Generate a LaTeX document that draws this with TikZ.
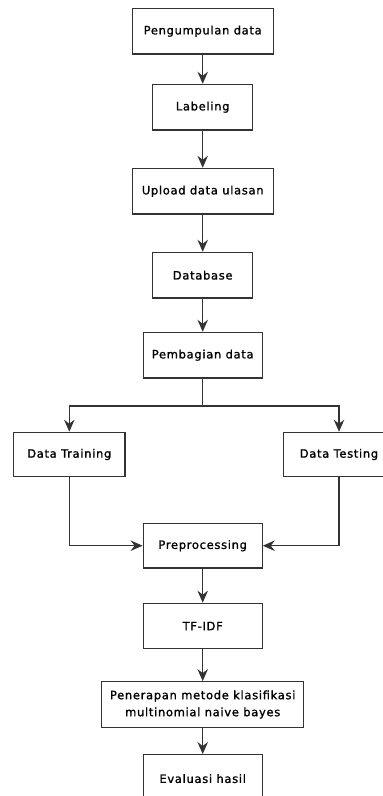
\documentclass[tikz,border=0pt]{standalone}
\usepackage{fontspec}
\setmainfont{DejaVu Sans}
\newfontfamily\boxfont[FakeBold=1.2,LetterSpace=6]{DejaVu Sans}
\usetikzlibrary{arrows.meta}
\definecolor{ln}{HTML}{333333}
\begin{document}
\begin{tikzpicture}[x=1pt,y=-1pt,
  box/.style={draw=ln,line width=1.2pt,fill=white,inner sep=0pt,align=center,font=\boxfont\fontsize{11.5}{17}\selectfont,text=black},
  arr/.style={draw=ln,line width=1.2pt,-{Stealth[length=12pt,width=10.5pt,inset=4pt]}}]
\useasboundingbox (0,0) rectangle (383,796);
\clip (0,0) rectangle (383,796);
\fill[white] (0,0) rectangle (383,796);
\node[box,minimum width=141pt,minimum height=45.7pt] (b1) at (202.7,31.2) {Pengumpulan data};
\node[box,minimum width=100pt,minimum height=45.7pt] (b2) at (202.7,107.2) {Labeling};
\node[box,minimum width=141pt,minimum height=45.7pt] (b3) at (202.7,191.2) {Upload data ulasan};
\node[box,minimum width=100pt,minimum height=45.7pt] (b4) at (202.7,275.2) {Database};
\node[box,minimum width=119pt,minimum height=45.7pt] (b5) at (202.7,355.2) {Pembagian data};
\node[box,minimum width=111.3pt,minimum height=44.4pt] (tr) at (69.3,454.5) {Data Training};
\node[box,minimum width=111.3pt,minimum height=44.4pt] (te) at (339,454.5) {Data Testing};
\node[box,minimum width=119pt,minimum height=44.7pt] (pp) at (202.7,545.7) {Preprocessing};
\node[box,minimum width=119pt,minimum height=45.4pt] (tf) at (202.7,626) {TF-IDF};
\node[box,minimum width=202pt,minimum height=45.6pt] (pm) at (202.7,704.5) {Penerapan metode klasifikasi\\ multinomial naive bayes};
\node[box,minimum width=119pt,minimum height=48pt,anchor=north] (ev) at (202.7,754) {Evaluasi hasil};
\draw[arr] (b1) -- (b2);
\draw[arr] (b2) -- (b3);
\draw[arr] (b3) -- (b4);
\draw[arr] (b4) -- (b5);
\coordinate (sp) at (202.7,406);
\draw[draw=ln,line width=1.2pt] (b5.south) -- (sp);
\draw[arr] (sp) -| (tr.north);
\draw[arr] (sp) -| (te.north);
\draw[arr] (tr.south) |- (pp.west);
\draw[arr] (te.south) |- (pp.east);
\draw[arr] (pp) -- (tf);
\draw[arr] (tf) -- (pm);
\draw[arr] (pm) -- (ev);
\end{tikzpicture}
\end{document}
